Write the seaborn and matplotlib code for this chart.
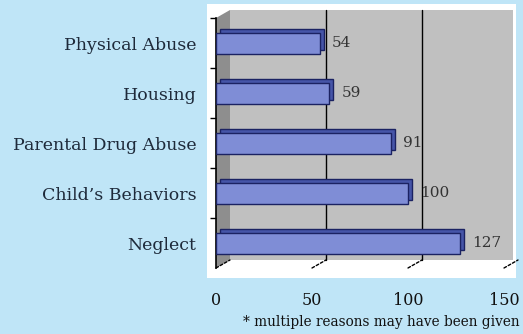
import matplotlib
matplotlib.use("Agg")
import matplotlib.pyplot as plt
from matplotlib.patches import Rectangle, Polygon
from matplotlib.transforms import ScaledTranslation
import seaborn as sns
import pandas as pd

categories = ["Physical Abuse", "Housing", "Parental Drug Abuse", "Child\u2019s Behaviors", "Neglect"]
counts = [54, 59, 91, 100, 127]
x_ticks = [0, 50, 100, 150]
footnote = "* multiple reasons may have been given"

df = pd.DataFrame({"reason": categories, "count": counts})

sns.set_theme(style="white")
plt.rcParams["font.family"] = ["DejaVu Serif"]

W, H, DPI = 523, 334, 100
fig = plt.figure(figsize=(W / DPI, H / DPI), dpi=DPI)
fig.patch.set_facecolor("#bfe5f7")

# white chart area behind the plot
fig.patches.append(Rectangle((207 / W, 1 - 278 / H), 309 / W, 274 / H,
                             transform=fig.transFigure, facecolor="white",
                             edgecolor="none", zorder=-10))

ax = fig.add_axes([216 / W, 1 - 268 / H, 288 / W, 250 / H])
ax.set_facecolor("none")

bar_face = "#7f8dd6"
bar_edge = "#1b2262"
bar_side = "#4655a8"

sns.barplot(data=df, x="count", y="reason", orient="h", color=bar_face,
            edgecolor=bar_edge, linewidth=1.0, width=0.42, saturation=1,
            ax=ax, zorder=3)

ax.set_xlim(0, 150)
ax.set_ylim(4.5, -0.5)

# depth offset for the 3-D look
dx_px, dy_px = 14, 8
depth = ScaledTranslation(dx_px / DPI, dy_px / DPI, fig.dpi_scale_trans)
back = ax.transAxes + depth

# back wall and left side wall
ax.add_patch(Rectangle((0, 0), 1 - 5 / 288, 1, transform=back, facecolor="#c0c0c0",
                       edgecolor="none", zorder=0.1, clip_on=False))
fx, fy = dx_px / 288, dy_px / 250
ax.add_patch(Polygon([(0, 0), (0, 1), (fx, 1 + fy), (fx, fy)], closed=True,
                     transform=ax.transAxes, facecolor="#8e8e8e",
                     edgecolor="none", zorder=0.2, clip_on=False))

# gridlines on the back wall
xaxis_tr = ax.get_xaxis_transform()
for t in x_ticks[1:-1]:
    ax.plot([t, t], [0, 1], color="black", lw=1.0, zorder=0.5,
            transform=xaxis_tr + depth, clip_on=False)

# dashed floor marks joining the front ticks to the back wall
for t in x_ticks:
    ax.annotate("", xy=(t, 0), xycoords=xaxis_tr + depth,
                xytext=(t, 0), textcoords=xaxis_tr,
                arrowprops=dict(arrowstyle="-", color="black", lw=1.0,
                                linestyle=(0, (2, 1.5)),
                                shrinkA=0, shrinkB=0),
                annotation_clip=False, zorder=0.6)

# bar depth (top and right faces)
bar_depth = ScaledTranslation(4 / DPI, 4 / DPI, fig.dpi_scale_trans)
for p in list(ax.patches):
    if p.get_zorder() != 3:
        continue
    ax.add_patch(Rectangle(p.get_xy(), p.get_width(), p.get_height(),
                           transform=ax.transData + bar_depth,
                           facecolor=bar_side, edgecolor=bar_edge, lw=1.0,
                           zorder=2.9, clip_on=False))

ax.bar_label(ax.containers[0], labels=[str(v) for v in counts], padding=9,
             fontsize=11, color="#333333")

ax.set_xticks(x_ticks)
ax.set_xticklabels([str(t) for t in x_ticks], fontsize=11.5, color="#111111")
ax.tick_params(axis="x", length=0, pad=17)
ax.tick_params(axis="y", which="major", length=0, pad=14, labelsize=12.5,
               labelcolor="#1e2a3a")
ax.set_yticks([-0.5, 0.5, 1.5, 2.5, 3.5], minor=True)
ax.tick_params(axis="y", which="minor", left=True, length=4, width=1,
               color="black", direction="out")
ax.set_xlabel("")
ax.set_ylabel("")

for s in ["top", "right", "bottom"]:
    ax.spines[s].set_visible(False)
ax.spines["left"].set_color("black")
ax.spines["left"].set_linewidth(1.2)

fig.text(520 / W, 1 - 322 / H, footnote, ha="right", va="center",
         fontsize=9.8, color="#111111")

fig.savefig("out.png", dpi=DPI, facecolor=fig.get_facecolor())
